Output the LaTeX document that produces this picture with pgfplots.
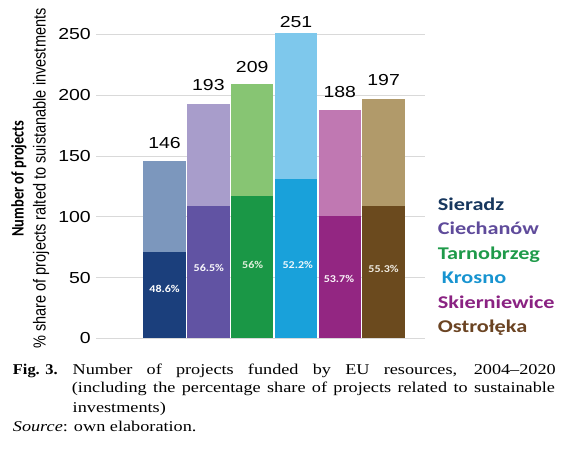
\documentclass[border=0pt]{standalone}
\usepackage{fontspec}
\setmainfont{Liberation Sans}
\newfontfamily\carlito{Carlito}
\newfontfamily\capfont{Liberation Serif}
\usepackage{graphicx}
\usepackage{pgfplots}
\pgfplotsset{compat=1.18}

\definecolor{sdD}{HTML}{1B3F7C}\definecolor{sdL}{HTML}{7C97BD}
\definecolor{ciD}{HTML}{6153A3}\definecolor{ciL}{HTML}{A89DCB}
\definecolor{taD}{HTML}{1A9746}\definecolor{taL}{HTML}{87C573}
\definecolor{krD}{HTML}{19A1DA}\definecolor{krL}{HTML}{7EC8EC}
\definecolor{skD}{HTML}{932682}\definecolor{skL}{HTML}{C078B2}
\definecolor{osD}{HTML}{6B4A1E}\definecolor{osL}{HTML}{B19A6A}
\definecolor{gridgray}{HTML}{D9D9D9}
\definecolor{lgSd}{HTML}{17375E}
\definecolor{lgCi}{HTML}{5F4B9B}
\definecolor{lgTa}{HTML}{1F9A4A}
\definecolor{lgKr}{HTML}{1894D0}
\definecolor{lgSk}{HTML}{8A2282}
\definecolor{lgOs}{HTML}{6B4423}

\newcommand{\tk}[1]{\scalebox{1.22}[1]{\fontsize{16}{16}\selectfont #1}}
\newcommand{\pct}[1]{\scalebox{1.15}[1]{\carlito\bfseries\fontsize{10.5}{12}\selectfont #1}}
\newcommand{\lgd}[1]{\scalebox{1.24}[1]{\carlito\bfseries\fontsize{18}{20}\selectfont #1}}
\newcommand{\cp}[1]{\scalebox{1.22}[1]{\capfont\fontsize{15}{18}\selectfont #1}}

\begin{document}
\begin{tikzpicture}
\useasboundingbox (0,0) rectangle (570bp,451bp);
\begin{axis}[
  at={(96bp,112.5bp)}, anchor=south west,
  scale only axis, width=329bp, height=316.4bp,
  xmin=-1.566, xmax=5.945, ymin=0, ymax=260,
  clip=false,
  axis line style={draw=none},
  major tick length=0pt,
  xtick=\empty,
  ytick={0,50,100,150,200,250},
  ymajorgrids,
  grid style={draw=gridgray, line width=0.9bp},
  /pgf/number format/assume math mode=true,
  yticklabel={\tk{\pgfmathprintnumber{\tick}}},
  yticklabel style={anchor=east, inner sep=0pt, xshift=-5bp},
  ybar, bar width=0.965, bar shift=0pt,
  every axis plot/.append style={draw=none, forget plot},
]
% totals (light)
\addplot[fill=sdL] coordinates {(0,146)};
\addplot[fill=ciL] coordinates {(1,193)};
\addplot[fill=taL] coordinates {(2,209)};
\addplot[fill=krL] coordinates {(3,251)};
\addplot[fill=skL] coordinates {(4,188)};
\addplot[fill=osL] coordinates {(5,197)};
% sustainable share (dark)
\addplot[fill=sdD] coordinates {(0,71)};
\addplot[fill=ciD] coordinates {(1,109)};
\addplot[fill=taD] coordinates {(2,117)};
\addplot[fill=krD] coordinates {(3,131)};
\addplot[fill=skD] coordinates {(4,101)};
\addplot[fill=osD] coordinates {(5,109)};

\node at (axis cs:0,146) [yshift=17.9bp] {\tk{146}};
\node at (axis cs:1,193) [yshift=18.5bp] {\tk{193}};
\node at (axis cs:2,209) [yshift=17.5bp] {\tk{209}};
\node at (axis cs:3,251) [yshift=11.1bp] {\tk{251}};
\node at (axis cs:4,188) [yshift=18bp] {\tk{188}};
\node at (axis cs:5,197) [yshift=18.8bp] {\tk{197}};

\node[text=white] at (axis cs:0,40.7) {\pct{48.6\%}};
\node[text=white!92!ciL] at (axis cs:1.01,57.9) {\pct{56.5\%}};
\node[text=white!75!taL] at (axis cs:2.01,60.3) {\pct{56\%}};
\node[text=white!85!krL] at (axis cs:3.04,60.3) {\pct{52.2\%}};
\node[text=white!92!skL] at (axis cs:3.98,48.7) {\pct{53.7\%}};
\node[text=white!80!osL] at (axis cs:5,56.9) {\pct{55.3\%}};
\end{axis}

\node[rotate=90] at (19bp,272.5bp) {\scalebox{1}[1.22]{\carlito\bfseries\fontsize{14.5}{16}\selectfont Number of projects}};
\node[rotate=90] at (41bp,272.5bp) {\scalebox{1}[1.2]{\fontsize{14.6}{16}\selectfont \% share of projects ralted to suistanable investments}};

\node[anchor=base west, inner sep=0pt, text=lgSd] at (437.7bp,240.5bp) {\lgd{Sieradz}};
\node[anchor=base west, inner sep=0pt, text=lgCi] at (437.7bp,216bp) {\lgd{Ciechanów}};
\node[anchor=base west, inner sep=0pt, text=lgTa] at (437.7bp,191.5bp) {\lgd{Tarnobrzeg}};
\node[anchor=base west, inner sep=0pt, text=lgKr] at (441.7bp,167bp) {\lgd{Krosno}};
\node[anchor=base west, inner sep=0pt, text=lgSk] at (437.7bp,142.5bp) {\lgd{Skierniewice}};
\node[anchor=base west, inner sep=0pt, text=lgOs] at (437.7bp,118bp) {\lgd{Ostrołęka}};

\node[anchor=base west, inner sep=0pt] at (12.7bp,76bp) {\scalebox{1.1}[1]{\capfont\fontsize{15}{18}\selectfont\bfseries Fig. 3.}};
\node[anchor=base west, inner sep=0pt] at (72.5bp,76bp) {\cp{\makebox[396bp][s]{Number of projects funded by EU resources, 2004–2020}}};
\node[anchor=base west, inner sep=0pt] at (71.7bp,58bp) {\cp{\makebox[396bp][s]{(including the percentage share of projects related to sustainable}}};
\node[anchor=base west, inner sep=0pt] at (72.5bp,39bp) {\cp{investments)}};
\node[anchor=base west, inner sep=0pt] at (12.7bp,20bp) {\cp{\textit{Source}: own elaboration.}};
\end{tikzpicture}
\end{document}
